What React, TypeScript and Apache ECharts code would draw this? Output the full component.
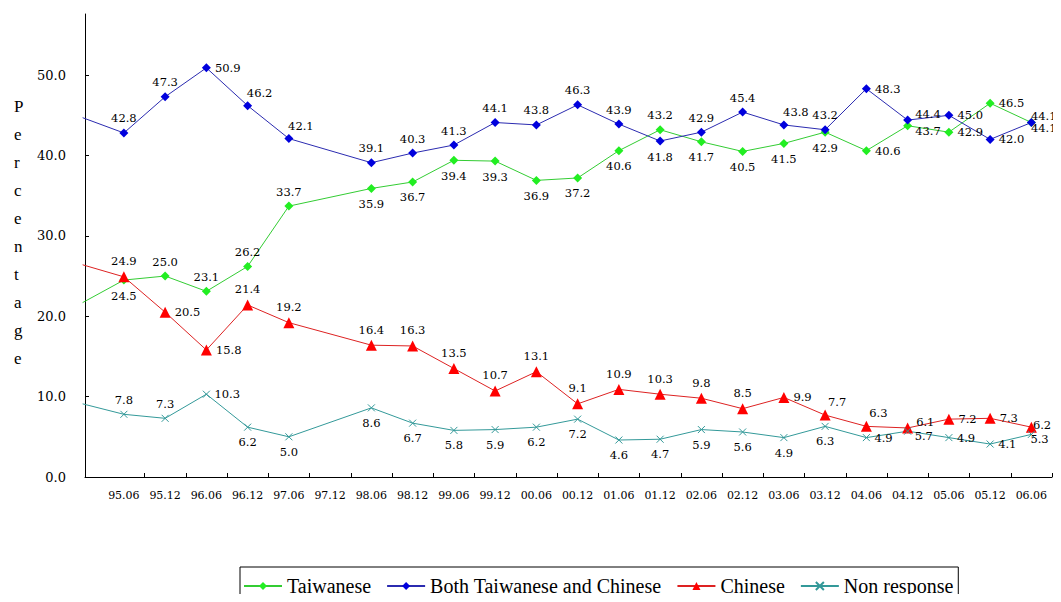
import React, { useEffect, useRef } from "react";
import * as echarts from "echarts";

const categories = ["", "95.06", "95.12", "96.06", "96.12", "97.06", "97.12", "98.06", "98.12", "99.06", "99.12", "00.06", "00.12", "01.06", "01.12", "02.06", "02.12", "03.06", "03.12", "04.06", "04.12", "05.06", "05.12", "06.06"];

const taiwanese = [21.7, 24.5, 25.0, 23.1, 26.2, 33.7, null, 35.9, 36.7, 39.4, 39.3, 36.9, 37.2, 40.6, 43.2, 41.7, 40.5, 41.5, 42.9, 40.6, 43.7, 42.9, 46.5, 44.1];
const both = [44.7, 42.8, 47.3, 50.9, 46.2, 42.1, null, 39.1, 40.3, 41.3, 44.1, 43.8, 46.3, 43.9, 41.8, 42.9, 45.4, 43.8, 43.2, 48.3, 44.4, 45.0, 42.0, 44.1];
const chinese = [26.4, 24.9, 20.5, 15.8, 21.4, 19.2, null, 16.4, 16.3, 13.5, 10.7, 13.1, 9.1, 10.9, 10.3, 9.8, 8.5, 9.9, 7.7, 6.3, 6.1, 7.2, 7.3, 6.2];
const nonResponse = [9.1, 7.8, 7.3, 10.3, 6.2, 5.0, null, 8.6, 6.7, 5.8, 5.9, 6.2, 7.2, 4.6, 4.7, 5.9, 5.6, 4.9, 6.3, 4.9, 5.7, 4.9, 4.1, 5.3];

const yTicks = [0, 10, 20, 30, 40, 50];

// label placement (style), t=top b=bottom r=right tr=top-right ru=right-up rd=right-down, e*=end column
const taiwanesePos = ["", "b", "t", "t", "t", "t", "", "b", "b", "b", "b", "b", "b", "b", "t", "b", "b", "b", "b", "r", "rd", "r", "r", "eu"];
const bothPos = ["", "t", "t", "r", "tr", "tr", "", "t", "t", "t", "t", "t", "t", "t", "b", "t", "t", "tr", "t", "r", "ru", "r", "r", "ed"];
const chinesePos = ["", "t", "r", "r", "t", "t", "", "t", "t", "t", "t", "t", "t", "t", "t", "t", "t", "r", "tr", "tr", "ru", "r", "r", "e"];
const nonPos = ["", "t", "t", "r", "b", "b", "", "b", "b", "b", "b", "b", "b", "b", "b", "b", "b", "b", "b", "r", "rd", "r", "r", "ed"];

const NUM_FONT = "DejaVu Serif";
const TXT_FONT = "Liberation Serif";

function labelFor(code: string) {
  switch (code) {
    case "t": return { position: "top", distance: 4 };
    case "b": return { position: "bottom", distance: 5 };
    case "r": return { position: "right", distance: 4 };
    case "tr": return { position: "top", distance: 2, offset: [12, 0] };
    case "ru": return { position: "right", distance: 3, offset: [0, -6] };
    case "rd": return { position: "right", distance: 3, offset: [0, 5] };
    case "e": return { position: "right", distance: 0, offset: [-4, -2] };
    case "eu": return { position: "right", distance: 0, offset: [-5, -7] };
    case "ed": return { position: "right", distance: 0, offset: [-5, 5] };
    default: return { show: false };
  }
}

function buildData(values: (number | null)[], pos: string[]) {
  return values.map((v, i) => {
    if (v === null) return null;
    if (i === 0) return { value: v, symbol: "none", label: { show: false } };
    return { value: v, label: labelFor(pos[i]) };
  });
}

export default function App() {
  const ref = useRef<HTMLDivElement>(null);
  useEffect(() => {
    if (!ref.current) return;
    const chart = echarts.init(ref.current, undefined, { renderer: "svg" });
    const labelBase = {
      show: true,
      color: "#000",
      fontSize: 11.5,
      fontFamily: NUM_FONT,
      formatter: (p: any) => (typeof p.value === "number" ? p.value.toFixed(1) : ""),
    };
    const mkSeries = (name: string, values: (number | null)[], pos: string[], lineColor: string, markColor: string, symbol: string, size: number, extraItem: any = {}) => ({
      name,
      type: "line",
      xAxisIndex: 0,
      yAxisIndex: 0,
      data: buildData(values, pos),
      connectNulls: true,
      symbol,
      symbolSize: size,
      showAllSymbol: true,
      lineStyle: { color: lineColor, width: 1 },
      itemStyle: { color: markColor, ...extraItem },
      label: labelBase,
      emphasis: { disabled: true },
    });
    chart.setOption({
      animation: false,
      backgroundColor: "#fff",
      grid: [
        { left: 62, right: 9, top: 14, bottom: 125 },
        { left: 85, right: 9, top: 14, bottom: 125 },
      ],
      xAxis: [
        {
          gridIndex: 0,
          type: "category",
          data: categories,
          boundaryGap: true,
          axisLine: { show: false },
          axisTick: { show: true, inside: true, length: 4, interval: (i: number) => i >= 2, lineStyle: { color: "#000" } },
          axisLabel: { interval: 0, fontSize: 11, fontFamily: NUM_FONT, color: "#000", margin: 13 },
          splitLine: { show: false },
        },
        {
          gridIndex: 1,
          type: "value",
          min: 0,
          max: 1,
          axisLine: { show: true, lineStyle: { color: "#000", width: 1 } },
          axisTick: { show: false },
          axisLabel: { show: false },
          splitLine: { show: false },
        },
      ],
      yAxis: [
        { gridIndex: 0, type: "value", min: 0, max: 57.6, show: false, splitLine: { show: false } },
        {
          gridIndex: 1,
          type: "value",
          min: yTicks[0],
          max: 57.6,
          interval: 10,
          axisLine: { show: true, lineStyle: { color: "#000", width: 1 } },
          axisTick: { show: true, inside: true, length: 4, lineStyle: { color: "#000" } },
          axisLabel: { showMaxLabel: false, margin: 19, fontSize: 13, fontFamily: NUM_FONT, color: "#000", formatter: (v: number) => v.toFixed(1) },
          splitLine: { show: false },
        },
      ],
      legend: {
        left: 240,
        top: 567,
        orient: "horizontal",
        selectedMode: false,
        borderColor: "#000",
        borderWidth: 1,
        borderRadius: 0,
        padding: [9, 5, 8, 3],
        itemGap: 15,
        itemWidth: 38,
        itemHeight: 10,
        textStyle: { fontSize: 20, fontFamily: TXT_FONT, color: "#000" },
        data: ["Taiwanese", "Both Taiwanese and Chinese", "Chinese", "Non response"],
      },
      graphic: [
        {
          type: "text",
          left: 14,
          top: 92,
          style: {
            text: "P\ne\nr\nc\ne\nn\nt\na\ng\ne",
            fontSize: 17,
            lineHeight: 28,
            fontFamily: TXT_FONT,
            fill: "#000",
            align: "center",
          },
        },
      ],
      series: [
        mkSeries("Taiwanese", taiwanese, taiwanesePos, "#33cc33", "#22ee22", "diamond", 9),
        mkSeries("Both Taiwanese and Chinese", both, bothPos, "#2b2bb0", "#0000dd", "diamond", 9),
        mkSeries("Chinese", chinese, chinesePos, "#dd2222", "#ff0000", "triangle", 11),
        mkSeries("Non response", nonResponse, nonPos, "#339999", "#339999", "path://M0,0L10,10M10,0L0,10", 7, { borderColor: "#339999", borderWidth: 1 }),
      ],
    });
    return () => chart.dispose();
  }, []);
  return <div ref={ref} style={{ width: 1061, height: 602, margin: -8 }} />;
}
